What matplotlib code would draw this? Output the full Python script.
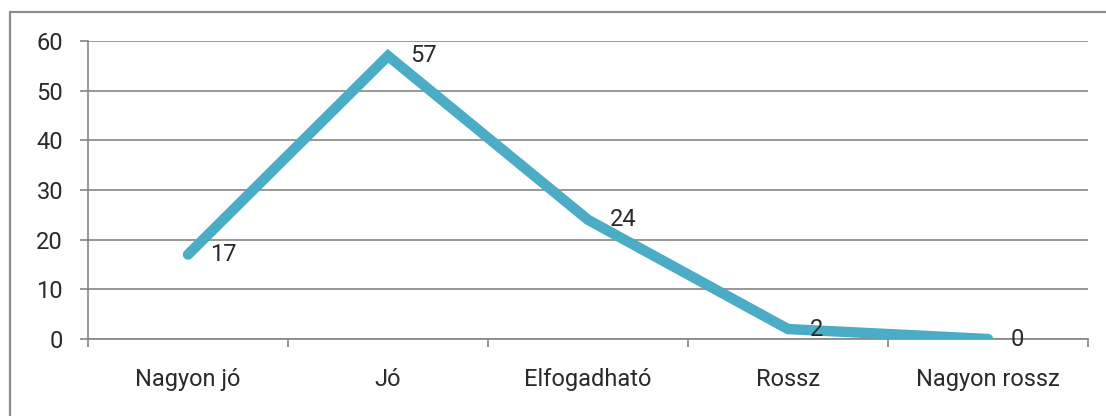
import matplotlib
matplotlib.use("Agg")
import matplotlib.pyplot as plt
from matplotlib.patches import Rectangle
import numpy as np

categories = ["Nagyon jó", "Jó", "Elfogadható", "Rossz", "Nagyon rossz"]
values = [17, 57, 24, 2, 0]
y_ticks = [0, 10, 20, 30, 40, 50, 60]

plt.rcParams["font.family"] = ["Roboto", "DejaVu Sans"]

W, H = 1106, 416
fig = plt.figure(figsize=(W / 100, H / 100), dpi=100)
ax = fig.add_axes([88 / W, 1 - 339 / H, 1000 / W, 298 / H])

grid_c = "#868686"
text_c = "#2a2a2a"
line_c = "#4BACC6"
fs = 17

x = np.arange(len(categories)) + 0.5
ax.plot(x, values, color=line_c, linewidth=7.5, solid_capstyle="round",
        solid_joinstyle="miter", zorder=3)

for xi, v in zip(x, values):
    ax.annotate(str(v), (xi, v), xytext=(16, 0), textcoords="offset points",
                ha="left", va="center", fontsize=fs, color=text_c, zorder=4)

ax.set_xlim(0, len(categories))
ax.set_ylim(0, 60)
ax.set_yticks(y_ticks)
ax.set_yticklabels([str(t) for t in y_ticks])
ax.set_xticks(np.arange(len(categories) + 1))
ax.set_xticklabels([])
ax.set_xticks(x, minor=True)
ax.set_xticklabels(categories, minor=True)

ax.tick_params(axis="y", direction="out", length=6, width=1.2, color=grid_c,
               labelsize=fs, labelcolor=text_c, pad=12)
ax.tick_params(axis="x", which="major", direction="out", length=6, width=1.2,
               color=grid_c)
ax.tick_params(axis="x", which="minor", length=0, labelsize=fs,
               labelcolor=text_c, pad=21)

ax.yaxis.grid(True, color=grid_c, linewidth=1.2)
ax.set_axisbelow(True)
for side in ("top", "right"):
    ax.spines[side].set_visible(False)
for side in ("left", "bottom"):
    ax.spines[side].set_color(grid_c)
    ax.spines[side].set_linewidth(1.2)

# chart area frame, running off the right and bottom edges
fig.patches.append(Rectangle((10 / W, -0.05), 1.0, 1 - 12 / H + 0.05,
                             transform=fig.transFigure, fill=False,
                             edgecolor="#8c8c8c", linewidth=1.6))

fig.savefig("out.png", dpi=100)
